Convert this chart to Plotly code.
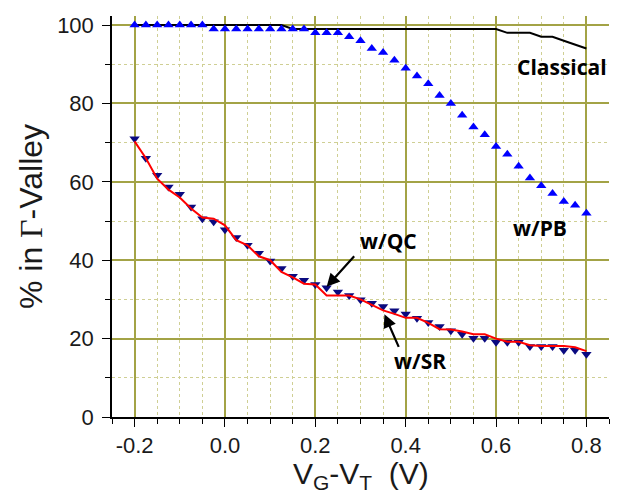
import plotly.graph_objects as go

# ---- data ----
vg = [round(-0.2 + 0.025 * i, 3) for i in range(41)]

classical = [100, 100, 100, 100, 100, 100, 100, 100, 100, 100, 100, 100, 100, 100,
             99, 99, 99, 99, 99, 99, 99, 99, 99, 99, 99, 99, 99, 99, 99, 99, 99, 99, 99,
             98, 98, 98, 97, 97, 96, 95, 94]

w_pb = [100, 100, 100, 100, 100, 100, 100, 99, 99, 99, 99, 99, 99, 99, 99, 99,
        98, 98, 98, 97, 96, 94, 93, 91, 89, 87, 85, 82, 80, 77, 74, 72, 69, 67,
        64, 61, 59, 57, 55, 54, 52]

w_qc = [71, 66, 61.7, 58.7, 56.8, 53.6, 50.6, 49.8, 47.8, 45.8, 43.8, 41.8, 39.8,
        37.9, 35.9, 34.9, 33.8, 33.0, 31.9, 31.0, 29.9, 29.0, 28.2, 27.1, 26.3, 25.2,
        24.1, 23.1, 22.0, 21.1, 20.1, 20.1, 19.1, 19.1, 19.1, 18.0, 18.0, 18.0, 17.0,
        17.0, 16.0]

w_sr = [70.3, 66, 60.8, 58.0, 56.0, 53.2, 50.9, 50.6, 48.9, 45.1, 43.8, 41.0, 40.0,
        37.0, 35.6, 34.0, 33.8, 31.0, 31.0, 31.0, 30.0, 28.7, 27.2, 26.3, 25.3, 25.3,
        24.0, 22.4, 22.3, 21.8, 21.1, 21.1, 20.0, 19.2, 19.2, 18.3, 18.1, 18.1, 18.1,
        17.8, 16.8]

x_ticks = [-0.2, 0.0, 0.2, 0.4, 0.6, 0.8]
x_tick_text = ["-0.2", "0.0", "0.2", "0.4", "0.6", "0.8"]
y_ticks = [0, 20, 40, 60, 80, 100]

# ---- figure ----
fig = go.Figure()
fig.add_trace(go.Scatter(x=vg, y=classical, mode="lines",
                         line=dict(color="black", width=2), name="Classical"))
fig.add_trace(go.Scatter(x=vg, y=w_pb, mode="markers",
                         marker=dict(symbol="triangle-up", size=9, color="#0000ff"),
                         name="w/PB"))
fig.add_trace(go.Scatter(x=vg, y=w_qc, mode="markers",
                         marker=dict(symbol="triangle-down", size=9, color="#0a0a80"),
                         name="w/QC"))
fig.add_trace(go.Scatter(x=vg, y=w_sr, mode="lines",
                         line=dict(color="#ff0000", width=2), name="w/SR"))

lab_font = dict(family="Open Sans", size=21, color="black")
ann = [
    dict(x=0.746, y=89.3, text="<b>Classical</b>", showarrow=False, font=lab_font),
    dict(x=0.698, y=48.3, text="<b>w/PB</b>", showarrow=False, font=lab_font),
    dict(x=0.363, y=44.8, text="<b>w/QC</b>", showarrow=False, font=lab_font),
    dict(x=0.431, y=14.2, text="<b>w/SR</b>", showarrow=False, font=lab_font),
    dict(x=0.225, y=33.2, ax=0.289, ay=41.4, axref="x", ayref="y", text="",
         showarrow=True, arrowhead=2, arrowsize=1.2, arrowwidth=2.2, arrowcolor="black"),
    dict(x=0.353, y=26.2, ax=0.386, ay=17.5, axref="x", ayref="y", text="",
         showarrow=True, arrowhead=2, arrowsize=1.2, arrowwidth=2.2, arrowcolor="black"),
    # x-axis title
    dict(x=0.5, y=0, xref="paper", yref="paper", xanchor="center", yanchor="top",
         yshift=-38, showarrow=False,
         text="V<sub>G</sub>-V<sub>T</sub>\u00a0\u00a0(V)",
         font=dict(family="Liberation Sans", size=30, color="#1a1a1a")),
]

tick_font = dict(family="Liberation Sans", size=22, color="#1a1a1a")
major_grid = "#a3a346"
minor_grid = "#cfcf94"

# the page body keeps an 8px default margin, so the figure is 8px smaller on each axis
fig.update_layout(
    width=617, height=487,
    margin=dict(l=104, r=16, t=8, b=78, autoexpand=False),
    paper_bgcolor="white", plot_bgcolor="white",
    showlegend=False,
    annotations=ann,
    xaxis=dict(
        range=[-0.25, 0.85], tickvals=x_ticks, ticktext=x_tick_text,
        automargin=False,
        showgrid=True, gridcolor=major_grid, gridwidth=1.5,
        zeroline=False, showline=True, linecolor="black", linewidth=1.5,
        ticks="outside", ticklen=8, tickwidth=1.3, tickcolor="black",
        tickfont=tick_font,
        minor=dict(dtick=0.05, tick0=0, showgrid=True, gridcolor=minor_grid,
                   griddash="dot", gridwidth=1, ticks="outside", ticklen=5,
                   tickcolor="black"),
    ),
    yaxis=dict(
        range=[0, 102.3], tickvals=y_ticks,
        automargin=False,
        showgrid=True, gridcolor=major_grid, gridwidth=1.5,
        zeroline=False, showline=True, linecolor="black", linewidth=1.5,
        ticks="outside", ticklen=8, tickwidth=1.3, tickcolor="black",
        tickfont=tick_font, ticklabelstandoff=4,
        minor=dict(dtick=10, showgrid=True, gridcolor=minor_grid,
                   griddash="dot", gridwidth=1, ticks="outside", ticklen=5,
                   tickcolor="black"),
        title=dict(text="% in <span style='font-family:Liberation Serif'>\u0393</span>-Valley",
                   font=dict(family="Liberation Sans", size=32, color="#1a1a1a"),
                   standoff=5),
    ),
)

fig.write_html("out.html")
